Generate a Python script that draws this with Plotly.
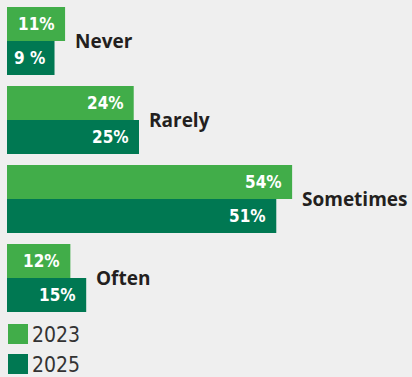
import plotly.graph_objects as go

categories = ["Never", "Rarely", "Sometimes", "Often"]
values_2023 = [11, 24, 54, 12]
values_2025 = [9, 25, 51, 15]
labels_2023 = ["11%", "24%", "54%", "12%"]
labels_2025 = ["9 %", "25%", "51%", "15%"]
series_names = ["2023", "2025"]

C_LIGHT = "#41ad49"
C_DARK = "#007852"
BG = "#efefef"
NARROW = "DejaVu Sans Condensed, Liberation Sans Narrow, Roboto, sans-serif"
CAT_FONT = "Open Sans, Lato, sans-serif"

W, H = 412, 377
ML = 7
px_per_unit = 5.28
xmax = (W - ML) / px_per_unit
pitch = 79.0
top_center = 41.0
y_top = -top_center / pitch
y_bot = y_top + H / pitch

fig = go.Figure()
for name, vals, col in [(series_names[0], values_2023, C_LIGHT), (series_names[1], values_2025, C_DARK)]:
    fig.add_trace(go.Bar(
        y=categories, x=vals, name=name, orientation="h",
        marker=dict(color=col, line=dict(width=0)),
        showlegend=False, hoverinfo="x+y+name",
    ))

annotations = []
for i, cat in enumerate(categories):
    for vals, labs, shift in [(values_2023, labels_2023, 17), (values_2025, labels_2025, -17)]:
        annotations.append(dict(
            x=vals[i], y=cat, xref="x", yref="y", text="<b>%s</b>" % labs[i],
            showarrow=False, xanchor="right", yanchor="middle", xshift=-8, yshift=shift,
            font=dict(family=NARROW, size=17, color="white"),
        ))
    annotations.append(dict(
        x=max(values_2023[i], values_2025[i]), y=cat, xref="x", yref="y",
        text="<b>%s</b>" % cat, showarrow=False, xanchor="left", yanchor="middle",
        xshift=8, font=dict(family=CAT_FONT, size=19, color="#231f20"),
    ))

shapes = []
legend_rows = [(series_names[0], C_LIGHT, 324), (series_names[1], C_DARK, 354)]
for name, col, ytop in legend_rows:
    shapes.append(dict(type="rect", xref="paper", yref="paper",
                       x0=(8 - ML) / (W - ML), x1=(28 - ML) / (W - ML),
                       y0=1 - (ytop + 20) / H, y1=1 - ytop / H,
                       fillcolor=col, line=dict(width=0)))
    annotations.append(dict(
        x=(30 - ML) / (W - ML), y=1 - (ytop + 11) / H, xref="paper", yref="paper",
        text=name, showarrow=False, xanchor="left", yanchor="middle",
        font=dict(family=NARROW, size=21, color="#333333"),
    ))

fig.update_layout(
    width=W, height=H,
    margin=dict(l=ML, r=0, t=0, b=0),
    paper_bgcolor=BG, plot_bgcolor=BG,
    barmode="group", bargap=11 / 79, bargroupgap=0,
    xaxis=dict(range=[0, xmax], visible=False, fixedrange=True),
    yaxis=dict(range=[y_bot, y_top], visible=False, type="category", fixedrange=True),
    annotations=annotations, shapes=shapes,
    showlegend=False,
)

fig.write_html("out.html")
